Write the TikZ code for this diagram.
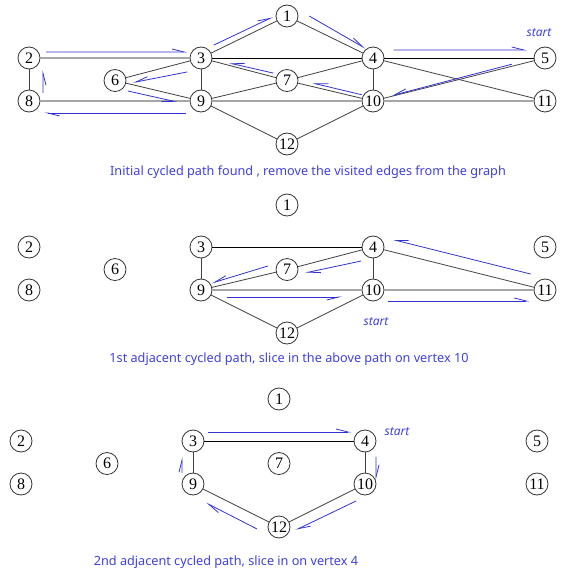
\documentclass[tikz,border=0pt]{standalone}
\usepackage{fontspec}
\setmainfont{Liberation Serif}
\setsansfont{Noto Sans}
\usepackage{tikz}
\usetikzlibrary{positioning,calc,arrows.meta}

\definecolor{pathblue}{RGB}{50,50,210}
\definecolor{capblue}{RGB}{64,64,220}

\begin{document}
\begin{tikzpicture}[on grid,
  vertex/.style={circle,draw=black!80,line width=0.6pt,inner sep=0pt,minimum size=16.5pt,font=\fontsize{12}{12}\selectfont},
  line/.style={draw=black!75,line width=0.6pt},
  heavy/.style={draw=black!35,line width=1.8pt},
  walk/.style={draw=pathblue,line width=0.6pt},
  harpl/.style={-{Straight Barb[left,length=9pt,width=4.5pt]}},
  harpr/.style={-{Straight Barb[right,length=9pt,width=4.5pt]}},
  caption/.style={text=capblue,font=\sffamily\fontsize{9.5}{11}\selectfont},
  startlbl/.style={text=capblue,font=\sffamily\itshape\fontsize{9}{10}\selectfont}]
\useasboundingbox (0,0) rectangle (429pt,-435.75pt);

% initial graph
\node[vertex] (a1) at (215.25pt,-12pt) {1};
\node[vertex] (a3) [below left=31.5pt and 64.5pt of a1] {3};
\node[vertex] (a4) [below right=31.5pt and 64.5pt of a1] {4};
\node[vertex] (a2) [left=129pt of a3] {2};
\node[vertex] (a5) [right=129pt of a4] {5};
\node[vertex] (a6) [below left=16.9pt and 64.5pt of a3] {6};
\node[vertex] (a7) [below right=16.9pt and 64.5pt of a3] {7};
\node[vertex] (a8) [below=32.25pt of a2] {8};
\node[vertex] (a9) [below=32.25pt of a3] {9};
\node[vertex] (a10) [below=32.25pt of a4] {10};
\node[vertex] (a11) [below=32.25pt of a5] {11};
\node[vertex] (a12) [below right=32.25pt and 64.5pt of a9] {12};
\path[heavy]
(a2) edge (a3)
(a8) edge (a9)
(a9) edge (a10)
(a10) edge (a11);
\path[line]
(a1) edge (a3) edge (a4)
(a3) edge [draw=black] (a4) edge (a6) edge (a9) edge (a7)
(a4) edge [draw=black] (a5) edge (a7) edge (a10) edge (a11)
(a2) edge (a8)
(a6) edge (a9)
(a7) edge (a9) edge (a10)
(a5) edge (a10)
(a12) edge (a9) edge (a10);
\node[startlbl] (s1) [above left=18.75pt and 4.5pt of a5] {start};
\draw[walk,harpr] ($(a5)!.19!(a10)!1.5pt!-90:(a10)$) -- ($(a5)!.89!(a10)!.5pt!-90:(a10)$);
\draw[walk,harpr] ($(a10)!.14!(a7)!2.6pt!-90:(a7)$) -- ($(a10)!.71!(a7)!2.6pt!-90:(a7)$);
\draw[walk,harpr] ($(a7)!.17!(a3)!2.8pt!-90:(a3)$) -- ($(a7)!.68!(a3)!1.7pt!-90:(a3)$);
\draw[walk,harpr] ($(a3)!.19!(a6)!7.5pt!90:(a6)$) -- ($(a3)!.81!(a6)!4.9pt!90:(a6)$);
\draw[walk,harpr] ($(a6)!.17!(a9)!5.4pt!-90:(a9)$) -- ($(a6)!.74!(a9)!4.9pt!-90:(a9)$);
\draw[walk,harpl] ($(a9)!.09!(a8)!9pt!90:(a8)$) -- ($(a9)!.91!(a8)!9pt!90:(a8)$);
\draw[walk,harpr] ($(a8)!.19!(a2)!10.5pt!-90:(a2)$) -- ($(a8)!.72!(a2)!10.5pt!-90:(a2)$);
\draw[walk,harpl] ($(a2)!.10!(a3)!4.5pt!90:(a3)$) -- ($(a2)!.92!(a3)!4.5pt!90:(a3)$);
\draw[walk,harpl] ($(a3)!.18!(a1)!4.5pt!90:(a1)$) -- ($(a3)!.86!(a1)!4pt!90:(a1)$);
\draw[walk,harpl] ($(a1)!.21!(a4)!7.3pt!90:(a4)$) -- ($(a1)!.88!(a4)!4pt!90:(a4)$);
\draw[walk,harpl] ($(a4)!.12!(a5)!6pt!90:(a5)$) -- ($(a4)!.895!(a5)!6pt!90:(a5)$);
\node[caption] (cap1) at (231pt,-129pt) {Initial cycled path found , remove the visited edges from the graph};

% 1st adjacent cycle
\node[vertex] (b1) [below=141.75pt of a1] {1};
\node[vertex] (b3) [below left=31.5pt and 64.5pt of b1] {3};
\node[vertex] (b4) [below right=31.5pt and 64.5pt of b1] {4};
\node[vertex] (b2) [left=129pt of b3] {2};
\node[vertex] (b5) [right=129pt of b4] {5};
\node[vertex] (b6) [below left=16.9pt and 64.5pt of b3] {6};
\node[vertex] (b7) [below right=16.9pt and 64.5pt of b3] {7};
\node[vertex] (b8) [below=32.25pt of b2] {8};
\node[vertex] (b9) [below=32.25pt of b3] {9};
\node[vertex] (b10) [below=32.25pt of b4] {10};
\node[vertex] (b11) [below=32.25pt of b5] {11};
\node[vertex] (b12) [below right=32.25pt and 64.5pt of b9] {12};
\path[heavy]
(b9) edge (b10)
(b10) edge (b11);
\path[line]
(b3) edge [draw=black] (b4) edge (b9)
(b4) edge (b7) edge (b10) edge (b11)
(b7) edge (b9)
(b12) edge (b9) edge (b10);
\node[startlbl] (s2) [below right=24pt and 2.25pt of b10] {start};
\draw[walk,harpr] ($(b11)!.10!(b4)!9pt!-90:(b4)$) -- ($(b11)!.90!(b4)!9pt!-90:(b4)$);
\draw[walk,harpl] ($(b4)!.17!(b7)!7.9pt!90:(b7)$) -- ($(b4)!.81!(b7)!5.9pt!90:(b7)$);
\draw[walk,harpr] ($(b7)!.20!(b9)!5.9pt!-90:(b9)$) -- ($(b7)!.86!(b9)!3.2pt!-90:(b9)$);
\draw[walk,harpr] ($(b9)!.15!(b10)!5.25pt!-90:(b10)$) -- ($(b9)!.82!(b10)!5.25pt!-90:(b10)$);
\draw[walk,harpl] ($(b10)!.09!(b11)!8.25pt!-90:(b11)$) -- ($(b10)!.91!(b11)!8.25pt!-90:(b11)$);
\node[caption] (cap2) at (216.75pt,-269.25pt) {1st adjacent cycled path, slice in the above path on vertex 10};

% 2nd adjacent cycle
\node[vertex] (c1) [below left=287.25pt and 6pt of a1] {1};
\node[vertex] (c3) [below left=31.5pt and 64.5pt of c1] {3};
\node[vertex] (c4) [below right=31.5pt and 64.5pt of c1] {4};
\node[vertex] (c2) [left=129pt of c3] {2};
\node[vertex] (c5) [right=129pt of c4] {5};
\node[vertex] (c6) [below left=16.9pt and 64.5pt of c3] {6};
\node[vertex] (c7) [below right=16.9pt and 64.5pt of c3] {7};
\node[vertex] (c8) [below=32.25pt of c2] {8};
\node[vertex] (c9) [below=32.25pt of c3] {9};
\node[vertex] (c10) [below=32.25pt of c4] {10};
\node[vertex] (c11) [below=32.25pt of c5] {11};
\node[vertex] (c12) [below right=32.25pt and 64.5pt of c9] {12};
\path[line]
(c3) edge [draw=black] (c4) edge (c9)
(c4) edge (c10)
(c12) edge (c9) edge (c10);
\node[startlbl] (s3) [above right=6.75pt and 24pt of c4] {start};
\draw[walk,harpl] ($(c3)!.09!(c4)!6.75pt!90:(c4)$) -- ($(c3)!.92!(c4)!6.75pt!90:(c4)$);
\draw[walk,harpl] ($(c4)!.37!(c10)!8.25pt!90:(c10)$) -- ($(c4)!.91!(c10)!8.25pt!90:(c10)$);
\draw[walk,harpl] ($(c10)!.16!(c12)!8.4pt!90:(c12)$) -- ($(c10)!.86!(c12)!7.6pt!90:(c12)$);
\draw[walk,harpl] ($(c12)!.195!(c9)!8.7pt!90:(c9)$) -- ($(c12)!.79!(c9)!8.3pt!90:(c9)$);
\draw[walk,harpl] ($(c9)!.26!(c3)!8.25pt!90:(c3)$) -- ($(c9)!.63!(c3)!8.25pt!90:(c3)$);
\node[caption] (cap3) at (169.5pt,-421.5pt) {2nd adjacent cycled path, slice in on vertex 4};
\end{tikzpicture}
\end{document}
